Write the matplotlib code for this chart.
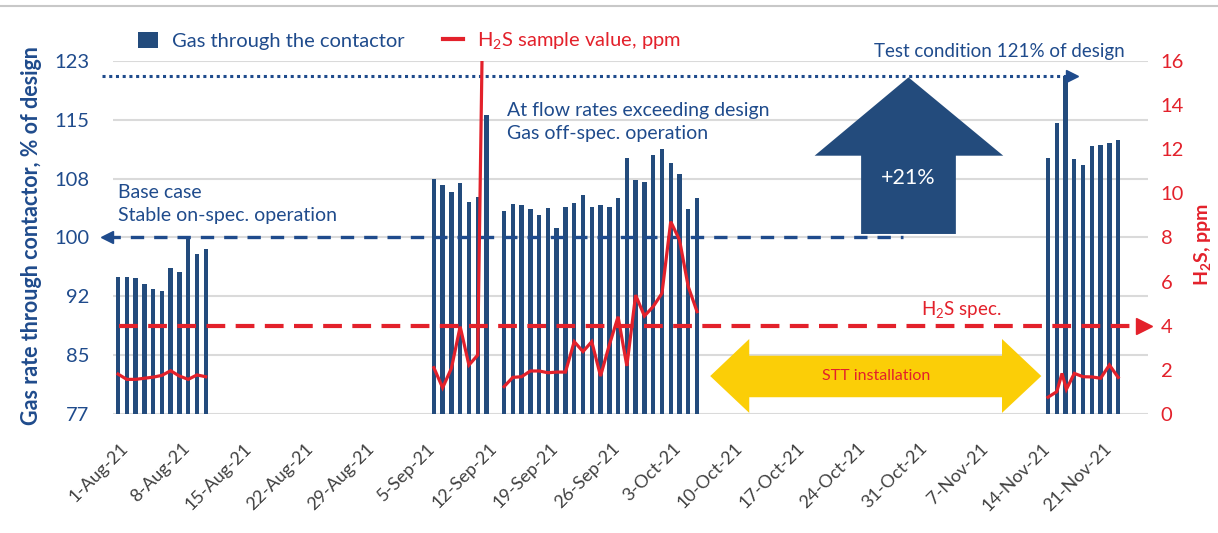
import matplotlib
matplotlib.use('Agg')
import matplotlib.pyplot as plt
import matplotlib.dates as mdates
import matplotlib.transforms as mtransforms
from matplotlib.patches import Polygon, Patch
from matplotlib.lines import Line2D
import numpy as np
import pandas as pd

plt.rcParams['font.family'] = ['Lato', 'DejaVu Sans']
plt.rcParams['mathtext.fontset'] = 'custom'
plt.rcParams['mathtext.rm'] = 'Lato'
plt.rcParams['mathtext.bf'] = 'Lato:bold'

BLUE = '#234B7C'
TEXT_BLUE = '#1F4B8C'
RED = '#E3212B'
YELLOW = '#FBCE07'
GRID = '#DADADA'
TICK_GREY = '#404040'

# gas through the contactor, % of design (daily values)
gas_starts = ['2021-08-01', '2021-09-06', '2021-09-14', '2021-11-15']
gas_aug = [94.8, 94.8, 94.7, 93.9, 93.3, 93.0, 96.0, 95.5, 100.2, 97.9, 98.5]
gas_sep_a = [107.6, 106.8, 105.9, 107.1, 104.6, 105.3, 116.0]
gas_sep_b = [103.4, 104.4, 104.2, 103.7, 102.9, 103.8, 101.2, 104.0, 104.5, 105.5,
             104.0, 104.2, 104.0, 105.1, 110.4, 107.5, 107.2, 110.8, 111.5, 109.7,
             108.3, 103.7, 105.2]
gas_nov = [110.3, 114.9, 121.0, 110.2, 109.5, 111.9, 112.1, 112.3, 112.7]

# H2S sample value, ppm
h2s_aug = [1.81, 1.57, 1.57, 1.62, 1.67, 1.75, 1.96, 1.72, 1.57, 1.77, 1.69]
h2s_sep_a = [2.10, 1.19, 2.07, 3.96, 2.22, 2.67, 30.0]
h2s_sep_b = [1.24, 1.66, 1.69, 1.95, 1.95, 1.87, 1.90, 1.90, 3.28, 2.83,
             3.28, 1.72, 3.13, 4.41, 2.18, 5.39, 4.44, 4.87, 5.47, 8.72,
             7.89, 5.77, 4.64]
h2s_nov = [0.76, 1.01, 1.84, 1.12, 1.84, 1.69, 1.68, 1.62, 2.22, 1.66]
h2s_nov_offsets = [0, 1, 1.6, 2.1, 3, 4, 5, 6, 7, 8]  # days after 15-Nov

h2s_spec = 4
design_base = 100
test_condition = 121

left_ticks = np.linspace(77, 123, 7)
left_labels = ['77', '85', '92', '100', '108', '115', '123']
right_ticks = list(range(0, 17, 2))
tick_dates = pd.date_range('2021-08-01', '2021-11-21', freq='7D')

W, H = 1218, 533


def fx(px):
    return px / W


def fy(py):
    return 1 - py / H


fig = plt.figure(figsize=(W / 100, H / 100), dpi=100)
ax = fig.add_axes([fx(113), fy(414), (1148 - 113) / W, (414 - 61) / H])
ax2 = ax.twinx()

base = mdates.date2num(pd.Timestamp('2021-08-01'))


def day(d):
    return base + d


gas_series = [gas_aug, gas_sep_a, gas_sep_b, gas_nov]
for start, vals in zip(gas_starts, gas_series):
    x = mdates.date2num(pd.date_range(start, periods=len(vals), freq='D'))
    ax.bar(x, vals, width=0.5, color=BLUE, zorder=2)

h2s_series = [
    (mdates.date2num(pd.date_range(gas_starts[0], periods=len(h2s_aug), freq='D')), h2s_aug),
    (mdates.date2num(pd.date_range(gas_starts[1], periods=len(h2s_sep_a), freq='D')), h2s_sep_a),
    (mdates.date2num(pd.date_range(gas_starts[2], periods=len(h2s_sep_b), freq='D')), h2s_sep_b),
    (mdates.date2num(pd.Timestamp(gas_starts[3])) + np.array(h2s_nov_offsets), h2s_nov),
]
for x, vals in h2s_series:
    ax2.plot(x, vals, color=RED, lw=2.3, zorder=4, solid_joinstyle='miter')

# axes styling
ax.set_xlim(day(-0.57), day(117.4))
ax.set_ylim(77, 123)
ax2.set_ylim(0, 16)
for a in (ax, ax2):
    for s in a.spines.values():
        s.set_visible(False)
ax.set_yticks(left_ticks)
ax.set_yticklabels(left_labels)
ax.yaxis.grid(True, color=GRID, lw=1.5)
ax.set_axisbelow(True)
ax.tick_params(axis='y', length=0, pad=17, labelsize=14.5, labelcolor=TEXT_BLUE)
ax2.set_yticks(right_ticks)
ax2.tick_params(axis='y', length=0, pad=9, labelsize=14.5, labelcolor=RED)

ax.set_xticks(mdates.date2num(tick_dates))
ax.set_xticklabels([f'{d.day}-{d:%b-%y}' for d in tick_dates], rotation=45,
                   ha='right', va='center', rotation_mode='anchor')
ax.tick_params(axis='x', length=0, pad=23, labelsize=13, labelcolor=TICK_GREY)
shift = mtransforms.ScaledTranslation(8 / 100, 0, fig.dpi_scale_trans)
for lbl in ax.get_xticklabels():
    lbl.set_transform(lbl.get_transform() + shift)

# test condition dotted line with arrow
ax.plot([day(-1.8), day(108.6)], [test_condition] * 2, color=TEXT_BLUE, lw=2.2,
        ls=(0, (1, 1.2)), clip_on=False, zorder=3)
ax.plot(day(108.7), test_condition, marker='>', ms=9, color=TEXT_BLUE, clip_on=False, zorder=3)
fig.text(fx(1125), fy(52), 'Test condition 121% of design', ha='right', va='center',
         fontsize=13.5, color=TEXT_BLUE)

# base case dashed line with arrow
ax.plot([day(-1.2), day(89.5)], [design_base] * 2, color=TEXT_BLUE, lw=2.4,
        ls=(0, (4, 3)), clip_on=False, zorder=3)
ax.plot(day(-1.2), design_base, marker='<', ms=9, color=TEXT_BLUE, clip_on=False, zorder=3)
fig.text(fx(118), fy(204), 'Base case\nStable on-spec. operation', ha='left', va='center',
         fontsize=14, color=TEXT_BLUE, linespacing=1.4)
fig.text(fx(507), fy(122), 'At flow rates exceeding design\nGas off-spec. operation',
         ha='left', va='center', fontsize=14, color=TEXT_BLUE, linespacing=1.4)

# +21% arrow
up = Polygon([(day(84.7), 100.46), (day(95.5), 100.46), (day(95.5), 110.66),
              (day(100.9), 110.66), (day(90.1), 120.87), (day(79.4), 110.66),
              (day(84.7), 110.66)], closed=True, facecolor=BLUE, edgecolor='none', zorder=3)
ax.add_patch(up)
ax.text(day(90.1), 107.7, '+21%', ha='center', va='center', fontsize=15.5, color='white', zorder=4)

# H2S spec line
ax2.plot([day(0.1), day(116.8)], [h2s_spec] * 2, color=RED, lw=3, ls=(0, (4.5, 2.5)),
         clip_on=False, zorder=3)
ax2.plot(day(116.9), h2s_spec, marker='>', ms=12, color=RED, clip_on=False, zorder=3)
fig.text(fx(1002), fy(310), r'H$_\mathregular{2}$S spec.', ha='right', va='center',
         fontsize=13.5, color=RED)

# STT installation double arrow
stt = Polygon([(day(67.5), 1.72), (day(71.95), 3.40), (day(71.95), 2.64),
               (day(100.76), 2.64), (day(100.76), 3.40), (day(105.24), 1.72),
               (day(100.76), 0.05), (day(100.76), 0.76), (day(71.95), 0.76),
               (day(71.95), 0.05)], closed=True, facecolor=YELLOW, edgecolor='none', zorder=2)
ax2.add_patch(stt)
ax2.text(day(86.4), 1.72, 'STT installation', ha='center', va='center', fontsize=11.5,
         color=RED, zorder=3)

# axis titles
fig.text(fx(32), fy(236), 'Gas rate through contactor, % of design', rotation=90,
         ha='center', va='center', fontsize=15.5, fontweight='bold', color=TEXT_BLUE)
fig.text(fx(1203), fy(244), r'H$_\mathregular{2}$S, ppm', rotation=90, ha='center',
         va='center', fontsize=14, fontweight='bold', color=RED)

# legend
handles = [Patch(facecolor=BLUE, edgecolor='none'), Line2D([], [], color=RED, lw=3)]
leg = fig.legend(handles, ['Gas through the contactor', r'H$_\mathregular{2}$S sample value, ppm'],
                 loc='upper left', bbox_to_anchor=(fx(138), fy(31)), ncol=2, frameon=False,
                 fontsize=14.5, handlelength=1.0, handleheight=0.9, handletextpad=0.7,
                 columnspacing=1.9, borderpad=0, borderaxespad=0)
leg.get_texts()[0].set_color(TEXT_BLUE)
leg.get_texts()[1].set_color(RED)

# top border line
fig.add_artist(Line2D([0, 1], [fy(6), fy(6)], color='#C8C8C8', lw=1.5, transform=fig.transFigure))

fig.savefig('out.png', dpi=100)
